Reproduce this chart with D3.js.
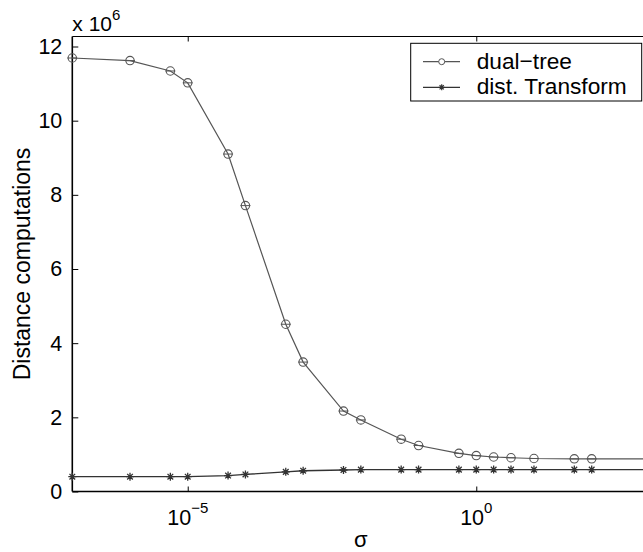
<!DOCTYPE html>
<html>
<head>
<meta charset="utf-8">
<script src="https://cdn.jsdelivr.net/npm/d3@7/dist/d3.min.js"></script>
<style>
  html, body { margin: 0; padding: 0; background: #fff; }
  svg { display: block; font-family: "Liberation Sans", Arial, Helvetica, sans-serif; }
</style>
</head>
<body>
<svg id="chart" width="643" height="552"></svg>
<script>
// Kernel bandwidth sigma (log axis)
const sigma = [1e-7, 1e-6, 5e-6, 1e-5, 5e-5, 1e-4, 5e-4, 1e-3, 5e-3, 1e-2,
               5e-2, 0.1, 0.5, 1, 2, 4, 10, 50, 100, 1000];
// Distance computations, in units of 10^6
const dualTree = [11.69, 11.62, 11.34, 11.02, 9.10, 7.71, 4.51, 3.49, 2.17, 1.93,
                  1.41, 1.24, 1.03, 0.97, 0.93, 0.91, 0.89, 0.88, 0.88, 0.88];
const distTransform = [0.40, 0.40, 0.40, 0.40, 0.43, 0.46, 0.53, 0.56, 0.58, 0.59,
                       0.59, 0.59, 0.59, 0.59, 0.59, 0.59, 0.59, 0.59, 0.59, 0.59];
const seriesNames = ["dual\u2212tree", "dist. Transform"];
const xTicks = [1e-5, 1];
const xTickExponents = ["\u22125", "0"];
const yTicks = [0, 2, 4, 6, 8, 10, 12];
const yExponent = "6";
const xLabel = "\u03c3";
const yLabel = "Distance computations";

(function draw() {
  const svg = d3.select("#chart");
  const pL = 72.3, pR = 649.4, pT = 36.5, pB = 491.5;

  const x = d3.scaleLog().domain([1e-7, 1e3]).range([pL, pR]);
  const y = d3.scaleLinear().domain([0, 12.27]).range([pB, pT]);

  const g = svg.append("g");

  // axes box (right side lies past the page edge)
  g.append("line").attr("x1", pL).attr("x2", pR).attr("y1", pT).attr("y2", pT)
    .attr("stroke", "#000").attr("stroke-width", 1);
  g.append("line").attr("x1", pL).attr("x2", pR).attr("y1", pB).attr("y2", pB)
    .attr("stroke", "#000").attr("stroke-width", 1.6);
  g.append("line").attr("x1", pL).attr("x2", pL).attr("y1", pT).attr("y2", pB)
    .attr("stroke", "#000").attr("stroke-width", 1.6);

  // inward y ticks and labels
  const yAxis = d3.axisLeft(y).tickValues(yTicks).tickSize(-6).tickPadding(10)
    .tickFormat(d3.format("d"));
  const ya = g.append("g").attr("transform", `translate(${pL},0)`).call(yAxis);
  ya.select(".domain").remove();
  ya.selectAll(".tick line").attr("stroke", "#000").attr("stroke-width", 1);
  ya.selectAll(".tick text").attr("font-size", 21.5).attr("fill", "#000")
    .attr("font-family", "Liberation Sans, Arial, sans-serif");

  // inward x ticks, bottom and top
  const xb = g.append("g").attr("transform", `translate(0,${pB})`)
    .call(d3.axisBottom(x).tickValues(xTicks).tickSize(-5).tickFormat(""));
  xb.select(".domain").remove();
  xb.selectAll(".tick line").attr("stroke", "#000").attr("stroke-width", 1);
  const xt = g.append("g").attr("transform", `translate(0,${pT})`)
    .call(d3.axisTop(x).tickValues(xTicks).tickSize(-5).tickFormat(""));
  xt.select(".domain").remove();
  xt.selectAll(".tick line").attr("stroke", "#000").attr("stroke-width", 1);

  // x tick labels as 10^k
  xTicks.forEach((v, i) => {
    const t = g.append("text").attr("x", x(v)).attr("y", 525)
      .attr("text-anchor", "middle").attr("fill", "#000");
    t.append("tspan").attr("font-size", 21.5).text("10");
    t.append("tspan").attr("font-size", 15).attr("dy", -12).text(xTickExponents[i]);
  });

  // exponent label above the y axis
  const ex = g.append("text").attr("x", pL).attr("y", 30.5).attr("fill", "#000");
  ex.append("tspan").attr("font-size", 21).text("x 10");
  ex.append("tspan").attr("font-size", 15).attr("dy", -11).text(yExponent);

  // axis titles
  g.append("text").attr("x", (pL + pR) / 2).attr("y", 546.5)
    .attr("text-anchor", "middle").attr("font-size", 22).attr("fill", "#000").text(xLabel);
  g.append("text").attr("transform", `translate(30,${(pT + pB) / 2}) rotate(-90)`)
    .attr("text-anchor", "middle").attr("font-size", 23).attr("fill", "#000").text(yLabel);

  // series
  const line = d3.line().x(d => x(d[0])).y(d => y(d[1]));
  const dtPts = sigma.map((s, i) => [s, dualTree[i]]);
  const dfPts = sigma.map((s, i) => [s, distTransform[i]]);
  const dtColor = "#555", dfColor = "#333";

  const starPath = r => {
    const a = r * 0.7071;
    return `M${-r},0L${r},0M0,${-r}L0,${r}M${-a},${-a}L${a},${a}M${-a},${a}L${a},${-a}`;
  };

  g.append("path").datum(dfPts).attr("d", line).attr("fill", "none")
    .attr("stroke", dfColor).attr("stroke-width", 1.3);
  g.append("g").selectAll("path").data(dfPts).join("path")
    .attr("transform", d => `translate(${x(d[0])},${y(d[1])})`)
    .attr("d", starPath(4)).attr("stroke", dfColor).attr("stroke-width", 1.3).attr("fill", "none");

  g.append("path").datum(dtPts).attr("d", line).attr("fill", "none")
    .attr("stroke", dtColor).attr("stroke-width", 1.2);
  const dtMarks = g.append("g").selectAll("g").data(dtPts).join("g")
    .attr("transform", d => `translate(${x(d[0])},${y(d[1])})`);
  dtMarks.append("line").attr("x1", -5).attr("x2", 5).attr("y1", 0).attr("y2", 0)
    .attr("stroke", dtColor).attr("stroke-width", 1);
  dtMarks.append("circle").attr("r", 4.2).attr("fill", "none")
    .attr("stroke", dtColor).attr("stroke-width", 1.1);

  // legend
  const lg = g.append("g");
  lg.append("rect").attr("x", 410.7).attr("y", 43.3).attr("width", 231).attr("height", 57.7)
    .attr("fill", "#fff").attr("stroke", "#000").attr("stroke-width", 1);
  const rows = [61.7, 87.3];
  [dtColor, dfColor].forEach((c, i) => {
    const ry = rows[i];
    lg.append("line").attr("x1", 423).attr("x2", 460).attr("y1", ry).attr("y2", ry)
      .attr("stroke", c).attr("stroke-width", 1.2);
    if (i === 0) {
      lg.append("circle").attr("cx", 441.7).attr("cy", ry).attr("r", 3)
        .attr("fill", "#fff").attr("stroke", c).attr("stroke-width", 1);
    } else {
      lg.append("path").attr("transform", `translate(441.7,${ry})`).attr("d", starPath(3))
        .attr("stroke", c).attr("stroke-width", 1.2).attr("fill", "none");
    }
    lg.append("text").attr("x", 476.7).attr("y", ry + 6.8).attr("font-size", 22.7)
      .attr("fill", "#000").text(seriesNames[i]);
  });
})();
</script>
</body>
</html>
